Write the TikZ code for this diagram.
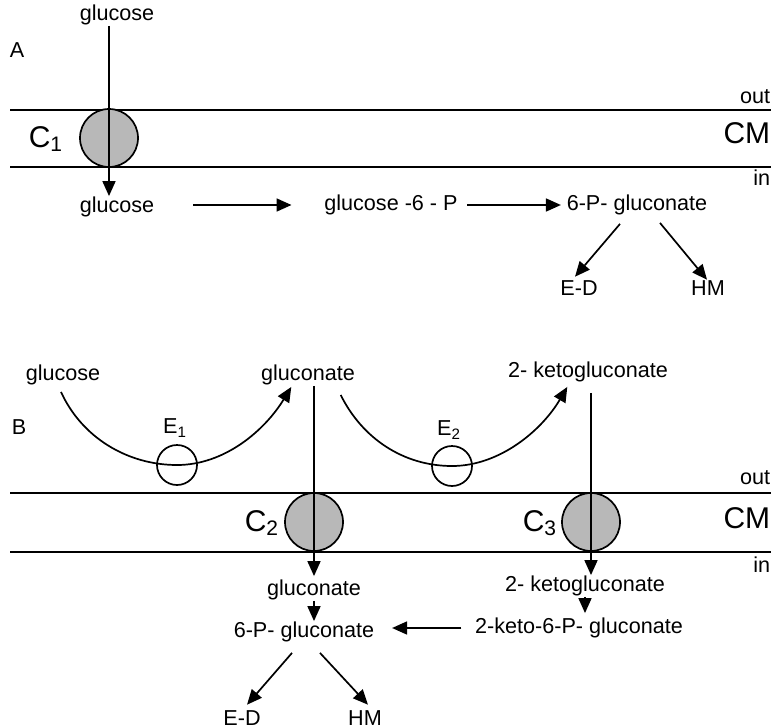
\documentclass[tikz,border=0pt]{standalone}
\usepackage{fontspec}
\setmainfont{Liberation Sans}
\usetikzlibrary{arrows.meta,positioning}

\begin{document}
\begin{tikzpicture}[
    x=0.5pt, y=-0.5pt,
    line width=0.85pt,
    >={Triangle[length=7.5pt,width=6.5pt]},
    text node/.style={inner sep=0pt,font=\fontsize{10.8}{13}\selectfont},
    big node/.style={inner sep=0pt,font=\fontsize{15}{18}\selectfont},
    carrier node/.style={circle,draw,fill=black!28,minimum size=29pt,inner sep=0pt},
    enzyme node/.style={circle,draw,minimum size=20pt,inner sep=0pt},
    membrane/.style={line width=0.9pt}
]
\useasboundingbox (0,0) rectangle (771,728);

% Panel A
\node[text node] (lab_a) at (17,50) {A};
\node[text node] (glucose_out) at (117,15) {glucose};

% Membrane A
\draw[membrane] (10,110) -- (771,110);
\draw[membrane] (10,167) -- (771,167);
\node[text node,anchor=east] (out_a) at (771,97) {out};
\node[big node,anchor=east] (cm_a) at (771,133) {CM};
\node[text node,anchor=east] (in_a) at (771,178) {in};

% Carrier
\node[carrier node] (c1) at (109,138) {};
\node[big node] (c1_label) at (46,139) {C\textsubscript{1}};

% Pathway A
\node[text node] (glucose_in) at (117,207) {glucose};
\node[text node] (g6p) at (391,205) {glucose -6 - P};
\node[text node] (p6g_a) at (637,205) {6-P- gluconate};
\node[text node] (ed_a) at (579,288) {E-D};
\node[text node] (hm_a) at (708,288) {HM};

% Arrows A
\draw[->] (glucose_out.south -| c1) -- (glucose_in.north -| c1);
\draw[->,shorten <=19pt,shorten >=16pt] (glucose_in.east |- g6p) -- (g6p.west);
\draw[->,shorten <=4.5pt,shorten >=2.5pt] (g6p.east) -- (p6g_a.west);
\draw[->] ([xshift=-8.5pt,yshift=-4pt]p6g_a.south) -- ([xshift=-2pt,yshift=1.5pt]ed_a.north);
\draw[->] ([xshift=11.5pt,yshift=-3.5pt]p6g_a.south) -- ([xshift=-0.5pt]hm_a.north);

% Panel B
\node[text node] (lab_b) at (19,427) {B};
\node[text node] (glucose_b) at (63,375) {glucose};
\node[text node] (glun_b) at (308,375) {gluconate};
\node[text node] (kg_b) at (588,372) {2- ketogluconate};

% Enzymes
\node[enzyme node] (e1) at (177,465) {};
\node[text node] (e1_label) at (175,428) {E\textsubscript{1}};
\node[enzyme node] (e2) at (452,466) {};
\node[text node] (e2_label) at (449,430) {E\textsubscript{2}};

\draw[->] ([xshift=-1pt,yshift=-3pt]glucose_b.south) .. controls (82,438) and (128,465) .. (e1.center)
    .. controls (225,465) and (265,430) .. ([xshift=15.5pt,yshift=-0.5pt]glun_b.south west);
\draw[->] ([xshift=-7.5pt,yshift=-4.5pt]glun_b.south east) .. controls (362,438) and (403,466) .. (e2.center)
    .. controls (500,466) and (542,430) .. ([xshift=30pt,yshift=-2pt]kg_b.south west);

% Membrane B
\draw[membrane] (10,493) -- (771,493);
\draw[membrane] (10,552) -- (771,552);
\node[text node,anchor=east] (out_b) at (771,478) {out};
\node[big node,anchor=east] (cm_b) at (771,518) {CM};
\node[text node,anchor=east] (in_b) at (771,565) {in};

% Carriers
\node[carrier node] (c2) at (314,522) {};
\node[big node] (c2_label) at (262,523) {C\textsubscript{2}};
\node[carrier node] (c3) at (591,522) {};
\node[big node] (c3_label) at (540,523) {C\textsubscript{3}};

% Pathway B
\node[text node] (gln_in) at (314,590) {gluconate};
\node[text node] (p6g_b) at (304,632) {6-P- gluconate};
\node[text node] (kg_in) at (585,586) {2- ketogluconate};
\node[text node] (k6pg) at (579,628) {2-keto-6-P- gluconate};
\node[text node] (ed_b) at (242,718) {E-D};
\node[text node] (hm_b) at (365,718) {HM};

% Arrows B
\draw[->,shorten >=1.5pt] (glun_b.south -| c2) -- (gln_in.north -| c2);
\draw[->,shorten <=5pt] (kg_b.south -| c3) -- (kg_in.north -| c3);
\draw[->] (gln_in.south) -- (gln_in.south |- p6g_b.north);
\draw[->,shorten >=2pt] (kg_in.south) -- (kg_in.south |- k6pg.north);
\draw[->,shorten <=6.5pt,shorten >=8.5pt] (k6pg.west) -- (k6pg.west -| p6g_b.east);
\draw[->] ([xshift=-6pt,yshift=-5pt]p6g_b.south) -- ([xshift=2.5pt,yshift=2.5pt]ed_b.north);
\draw[->] ([xshift=8pt,yshift=-5pt]p6g_b.south) -- ([xshift=1.5pt,yshift=2.5pt]hm_b.north);

\end{tikzpicture}
\end{document}
